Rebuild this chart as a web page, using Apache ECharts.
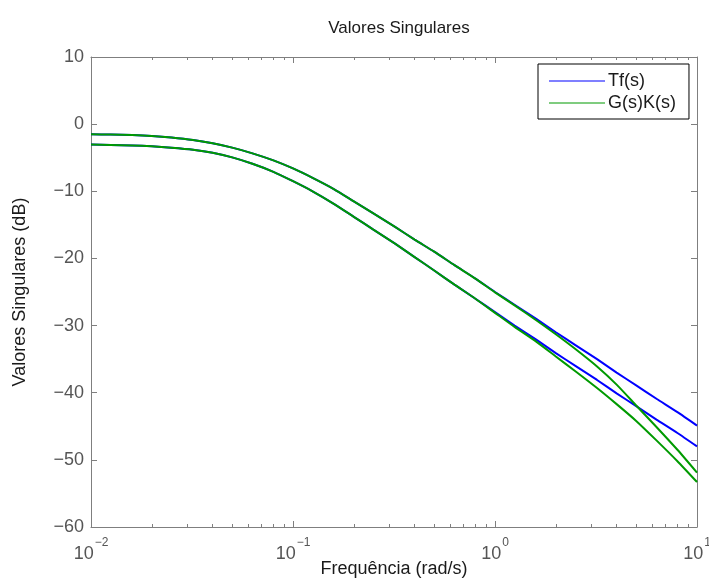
<!DOCTYPE html>
<html>
<head>
<meta charset="utf-8">
<script src="https://cdn.jsdelivr.net/npm/echarts@6/dist/echarts.min.js"></script>
<style>
html,body{margin:0;padding:0;background:#fff;}
#chart{width:709px;height:581px;}
</style>
</head>
<body>
<div id="chart"></div>
<script>
// Frequencies (rad/s)
const freq = [0.01, 0.0125, 0.016, 0.02, 0.025, 0.032, 0.04, 0.05, 0.063, 0.08,
              0.1, 0.125, 0.16, 0.2, 0.25, 0.32, 0.4, 0.5, 0.63, 0.8,
              1, 1.25, 1.6, 2, 2.5, 3.2, 4, 5, 6.3, 8, 10];
// Singular values of Tf(s) (dB)
const tfSigma1 = [-1.5, -1.55, -1.62, -1.75, -1.98, -2.35, -2.85, -3.5, -4.35, -5.4,
                  -6.6, -8.0, -9.7, -11.5, -13.3, -15.3, -17.2, -19.0, -21.0, -23.0,
                  -25.0, -26.9, -29.0, -31.0, -32.9, -35.0, -37.0, -38.9, -40.9, -42.9, -44.9];
const tfSigma2 = [-3.05, -3.1, -3.18, -3.3, -3.5, -3.8, -4.25, -4.95, -5.9, -7.1,
                  -8.5, -10.0, -11.9, -13.8, -15.7, -17.8, -19.8, -21.8, -23.9, -26.0,
                  -28.0, -30.0, -32.1, -34.1, -36.0, -38.1, -40.1, -42.0, -44.0, -46.0, -48.0];
// Singular values of G(s)K(s) (dB)
const gkSigma1 = [-1.5, -1.55, -1.62, -1.75, -1.98, -2.35, -2.85, -3.5, -4.35, -5.4,
                  -6.6, -8.0, -9.7, -11.5, -13.3, -15.3, -17.2, -19.0, -21.0, -23.0,
                  -25.05, -27.0, -29.2, -31.3, -33.5, -36.1, -38.8, -41.9, -45.1, -48.5, -51.9];
const gkSigma2 = [-3.05, -3.1, -3.18, -3.3, -3.5, -3.8, -4.25, -4.95, -5.9, -7.1,
                  -8.5, -10.0, -11.9, -13.8, -15.7, -17.8, -19.8, -21.8, -23.9, -26.0,
                  -28.1, -30.2, -32.4, -34.6, -36.8, -39.3, -41.7, -44.2, -47.1, -50.2, -53.3];
// Tick positions
const xMajorTicks = [0.01, 0.1, 1, 10];
const xMinorTicks = [0.02,0.03,0.04,0.05,0.06,0.07,0.08,0.09,0.2,0.3,0.4,0.5,0.6,0.7,0.8,0.9,2,3,4,5,6,7,8,9];
const yTicks = [-60, -50, -40, -30, -20, -10, 0, 10];

const FONT = '"Liberation Sans", Arial, Helvetica, sans-serif';
const AXIS_COLOR = '#7f7f7f';
const LABEL_COLOR = '#555555';

function pairs(ys) { return freq.map((f, i) => [f, ys[i]]); }

function xAxisCfg(pos, values, len, showLine, showLabel) {
  return {
    type: 'log', logBase: 10, min: 0.01, max: 10, position: pos, gridIndex: 0,
    axisLine: { show: showLine, onZero: false, lineStyle: { color: AXIS_COLOR, width: 1 } },
    axisTick: { show: true, inside: true, length: len, customValues: values, lineStyle: { color: AXIS_COLOR, width: 1 } },
    axisLabel: {
      show: showLabel, customValues: values, margin: 10,
      fontFamily: FONT, color: LABEL_COLOR,
      formatter: function (v) {
        const e = Math.round(Math.log10(v));
        return '{b|10}{s|' + (e < 0 ? '\u2212' + (-e) : e) + '}';
      },
      rich: {
        b: { fontSize: 18, fontFamily: FONT, color: LABEL_COLOR, lineHeight: 26, verticalAlign: 'bottom' },
        s: { fontSize: 12, fontFamily: FONT, color: LABEL_COLOR, lineHeight: 26, verticalAlign: 'top', padding: [0, 0, 0, 1] }
      }
    },
    splitLine: { show: false }
  };
}

const lineSeries = (name, ys, color) => ({
  name: name, type: 'line', data: pairs(ys), symbol: 'none', showSymbol: false,
  smooth: 0.2, color: color,
  lineStyle: { width: 2, color: color }, xAxisIndex: 0, yAxisIndex: 0
});

const option = {
  animation: false,
  backgroundColor: '#ffffff',
  title: {
    text: 'Valores Singulares', left: 394, top: 15, textAlign: 'center',
    textStyle: { fontFamily: FONT, fontSize: 17, fontWeight: 'normal', color: '#1a1a1a' }
  },
  legend: {
    orient: 'vertical', left: 538, top: 64,
    data: [{ name: 'Tf(s)', icon: 'rect' }, { name: 'G(s)K(s)', icon: 'rect' }],
    itemWidth: 56, itemHeight: 1.2, itemGap: 4,
    padding: [8, 13, 7, 11],
    borderColor: '#000', borderWidth: 1, backgroundColor: '#fff',
    textStyle: { fontFamily: FONT, fontSize: 18, color: '#1a1a1a', padding: [0, 0, 0, -2] }
  },
  grid: { left: 91, top: 57, width: 606, height: 470, show: false, containLabel: false, outerBoundsMode: 'none' },
  xAxis: [
    Object.assign(xAxisCfg('bottom', xMajorTicks, 6, true, true), {
      name: 'Frequência (rad/s)', nameLocation: 'middle', nameGap: 33, nameMoveOverlap: false,
      nameTextStyle: { fontFamily: FONT, fontSize: 18, color: '#1a1a1a' }
    }),
    xAxisCfg('bottom', xMinorTicks, 3, false, false),
    xAxisCfg('top', xMajorTicks, 6, true, false),
    xAxisCfg('top', xMinorTicks, 3, false, false)
  ],
  yAxis: [
    {
      type: 'value', min: -60, max: 10, interval: 10, position: 'left',
      name: 'Valores Singulares (dB)', nameLocation: 'middle', nameGap: 62, nameRotate: 90, nameMoveOverlap: false,
      nameTextStyle: { fontFamily: FONT, fontSize: 18, color: '#1a1a1a' },
      axisLine: { show: true, onZero: false, lineStyle: { color: AXIS_COLOR, width: 1 } },
      axisTick: { show: true, inside: true, length: 6, customValues: yTicks, lineStyle: { color: AXIS_COLOR } },
      axisLabel: {
        customValues: yTicks, margin: 7, fontFamily: FONT, fontSize: 18, color: LABEL_COLOR,
        formatter: v => (v < 0 ? '\u2212' + (-v) : String(v))
      },
      splitLine: { show: false }
    },
    {
      type: 'value', min: -60, max: 10, interval: 10, position: 'right',
      axisLine: { show: true, onZero: false, lineStyle: { color: AXIS_COLOR, width: 1 } },
      axisTick: { show: true, inside: true, length: 6, customValues: yTicks, lineStyle: { color: AXIS_COLOR } },
      axisLabel: { show: false },
      splitLine: { show: false }
    }
  ],
  series: [
    lineSeries('Tf(s)', tfSigma1, '#0000ff'),
    lineSeries('Tf(s)', tfSigma2, '#0000ff'),
    lineSeries('G(s)K(s)', gkSigma1, '#009a00'),
    lineSeries('G(s)K(s)', gkSigma2, '#009a00')
  ]
};

const chart = echarts.init(document.getElementById('chart'), null, { renderer: 'canvas' });
chart.setOption(option);
</script>
</body>
</html>
